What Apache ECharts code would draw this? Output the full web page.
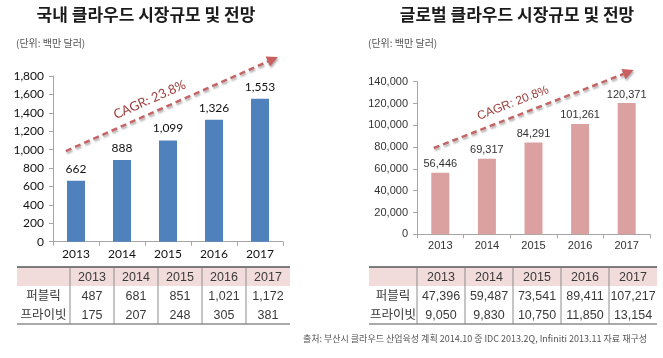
<!DOCTYPE html>
<html><head><meta charset="utf-8">
<script src="https://cdn.jsdelivr.net/npm/echarts@6/dist/echarts.min.js"></script>
<style>html,body{margin:0;padding:0;background:#fff}#c{width:663px;height:358px}</style>
</head><body><div id="c"></div>
<script>
// ---- data ----
const years = ['2013', '2014', '2015', '2016', '2017'];
const rowNames = ['퍼블릭', '프라이빗'];
const domesticTotal = [662, 888, 1099, 1326, 1553];
const domesticPublic = [487, 681, 851, 1021, 1172];
const domesticPrivate = [175, 207, 248, 305, 381];
const globalTotal = [56446, 69317, 84291, 101261, 120371];
const globalPublic = [47396, 59487, 73541, 89411, 107217];
const globalPrivate = [9050, 9830, 10750, 11850, 13154];
const domesticAxis = { min: 0, max: 1800, interval: 200 };
const globalAxis = { min: 0, max: 140000, interval: 20000 };
const domesticTitle = '국내 클라우드 시장규모 및 전망';
const globalTitle = '글로벌 클라우드 시장규모 및 전망';
const unitText = '(단위: 백만 달러)';
const sourceText = '출처: 부산시 클라우드 산업육성 계획 2014.10 중 IDC 2013.2Q, Infiniti 2013.11 자료 재구성';
const domesticCagr = 'CAGR: 23.8%';
const globalCagr = 'CAGR: 20.8%';
// trend arrows: [category position, value] start and end
const domesticArrow = [[-0.22, 985], [4.39, 2006]];
const globalArrow = [[-0.14, 79170], [4.15, 150730]];

const fmt = v => v.toLocaleString('en-US');
const TABLE_FONT = '"Liberation Sans", "Noto Sans CJK KR", sans-serif';

function bodyCells(pub, priv) {
  const cells = [];
  years.forEach((y, i) => cells.push({ x: i, y: 0, text: y }));
  pub.forEach((v, i) => cells.push({ x: i, y: 1, text: fmt(v) }));
  priv.forEach((v, i) => cells.push({ x: i, y: 2, text: fmt(v) }));
  return cells;
}
function labelCells() {
  return [{ x: 0, y: 0, text: '' }].concat(rowNames.map((n, i) => ({ x: 0, y: i + 1, text: n })));
}
function lineEl(x1, y1, x2, y2, color, w) {
  return { type: 'line', shape: { x1, y1, x2, y2 }, style: { stroke: color, lineWidth: w } };
}
function makeCellRenderer(cells, leftBorder) {
  return function (params, api) {
    const cell = cells[params.dataIndex];
    const c = api.coord([api.value(0), api.value(1)]);
    const s = api.size([1, 1]);
    const x = c[0] - s[0] / 2, y = c[1] - s[1] / 2, w = s[0], h = s[1];
    const ch = [];
    if (cell.y === 0) ch.push({ type: 'rect', shape: { x, y, width: w, height: h }, style: { fill: '#f2dcdb' } });
    ch.push({ type: 'text', style: { text: cell.text, x: c[0], y: c[1] + 1, align: 'center', verticalAlign: 'middle', fill: '#3a3a3a', fontSize: 12.5, fontFamily: TABLE_FONT } });
    if (leftBorder) ch.push(lineEl(x, y, x, y + h, '#8c8c8c', 1));
    if (cell.y === 0) ch.push(lineEl(x, y, x + w, y, '#555', 1.5));
    if (cell.y === 2) ch.push(lineEl(x, y + h, x + w, y + h, '#555', 1.2));
    return { type: 'group', children: ch };
  };
}

function chartAxes(grid, font, size, color, axisCfg) {
  const x = {
    type: 'category', gridIndex: grid, data: years,
    axisLine: { lineStyle: { color: '#a6a6a6' } },
    axisTick: { show: true, length: 4, lineStyle: { color: '#a6a6a6' } },
    axisLabel: { fontFamily: font, fontSize: size, color: color, margin: 6 }
  };
  const y = {
    type: 'value', gridIndex: grid, min: axisCfg.min, max: axisCfg.max, interval: axisCfg.interval,
    splitLine: { show: false },
    axisLine: { show: true, lineStyle: { color: '#a6a6a6' } },
    axisTick: { show: true, length: 4, lineStyle: { color: '#a6a6a6' } },
    axisLabel: { fontFamily: font, fontSize: size, color: color, margin: 9, formatter: v => fmt(v) }
  };
  return [x, y];
}
function hiddenAxes(grid, xData) {
  return [
    { type: 'category', gridIndex: grid, data: xData, show: false },
    { type: 'category', gridIndex: grid, data: ['h', 'r1', 'r2'], inverse: true, show: false }
  ];
}

const chart = echarts.init(document.getElementById('c'), null, { renderer: 'canvas' });

const a0 = chartAxes(0, 'Lato', 12, '#111', domesticAxis);
const a1 = chartAxes(1, 'Liberation Sans', 11, '#333', globalAxis);
const t2 = hiddenAxes(2, ['']), t3 = hiddenAxes(3, years), t4 = hiddenAxes(4, ['']), t5 = hiddenAxes(5, years);

const dLab = labelCells(), dBody = bodyCells(domesticPublic, domesticPrivate);
const gLab = labelCells(), gBody = bodyCells(globalPublic, globalPrivate);

chart.setOption({
  animation: false,
  backgroundColor: '#fff',
  grid: [
    { left: 53, top: 76, width: 230, height: 165.7 },
    { left: 417, top: 81.7, width: 233, height: 152.6 },
    { left: 17, top: 267, width: 53, height: 57 },
    { left: 70, top: 267, width: 220, height: 57 },
    { left: 369, top: 267, width: 48, height: 57 },
    { left: 417, top: 267, width: 240, height: 57 }
  ],
  xAxis: [a0[0], a1[0], t2[0], t3[0], t4[0], t5[0]],
  yAxis: [a0[1], a1[1], t2[1], t3[1], t4[1], t5[1]],
  series: [
    {
      type: 'bar', xAxisIndex: 0, yAxisIndex: 0, data: domesticTotal, barWidth: 18,
      itemStyle: { color: '#4f81bd' },
      label: { show: true, position: 'top', distance: 6, fontFamily: 'Lato', fontSize: 12, color: '#111', formatter: p => fmt(p.value) }
    },
    {
      type: 'bar', xAxisIndex: 1, yAxisIndex: 1, data: globalTotal, barWidth: 18,
      itemStyle: { color: '#dba1a0' },
      label: { show: true, position: 'top', distance: 3, fontFamily: 'Liberation Sans', fontSize: 11, color: '#333', formatter: p => fmt(p.value) }
    },
    { type: 'custom', xAxisIndex: 2, yAxisIndex: 2, data: dLab.map(c => [c.x, c.y]), renderItem: makeCellRenderer(dLab, false) },
    { type: 'custom', xAxisIndex: 3, yAxisIndex: 3, data: dBody.map(c => [c.x, c.y]), renderItem: makeCellRenderer(dBody, true) },
    { type: 'custom', xAxisIndex: 4, yAxisIndex: 4, data: gLab.map(c => [c.x, c.y]), renderItem: makeCellRenderer(gLab, false) },
    { type: 'custom', xAxisIndex: 5, yAxisIndex: 5, data: gBody.map(c => [c.x, c.y]), renderItem: makeCellRenderer(gBody, true) }
  ]
});

function arrowGraphics(axisIdx, pts, text, font) {
  const c0 = chart.convertToPixel({ xAxisIndex: axisIdx }, 0);
  const c1 = chart.convertToPixel({ xAxisIndex: axisIdx }, 1);
  const px = v => c0 + v * (c1 - c0);
  const py = v => chart.convertToPixel({ yAxisIndex: axisIdx }, v);
  const p1 = [px(pts[0][0]), py(pts[0][1])], p2 = [px(pts[1][0]), py(pts[1][1])];
  const dx = p2[0] - p1[0], dy = p2[1] - p1[1], len = Math.hypot(dx, dy);
  const ux = dx / len, uy = dy / len;
  const head = 11, hw = 5.5;
  const base = [p2[0] - ux * head, p2[1] - uy * head];
  const shadow = { shadowBlur: 2, shadowColor: 'rgba(0,0,0,0.3)', shadowOffsetX: 1, shadowOffsetY: 2 };
  const t = 0.42, off = 13;
  const tp = [p1[0] + dx * t + uy * off, p1[1] + dy * t - ux * off];
  return [
    { type: 'line', z: 10, shape: { x1: p1[0], y1: p1[1], x2: base[0], y2: base[1] },
      style: Object.assign({ stroke: '#c56464', lineWidth: 2.5, lineDash: [6, 4] }, shadow) },
    { type: 'polygon', z: 10, shape: { points: [p2, [base[0] - uy * hw, base[1] + ux * hw], [base[0] + uy * hw, base[1] - ux * hw]] },
      style: Object.assign({ fill: '#c95f5f' }, shadow) },
    { type: 'text', z: 11, x: tp[0], y: tp[1], rotation: Math.atan2(-dy, dx),
      style: { text: text, x: 0, y: 0, align: 'center', verticalAlign: 'middle', fill: '#9c3c3a', fontSize: font[0], fontFamily: font[1] } }
  ];
}

const g = [];
const tStyle = (text, x, y, align, size, weight, fill) => ({ type: 'text', style: { text, x, y, align, verticalAlign: 'middle', fill, fontSize: size, fontWeight: weight, fontFamily: 'Noto Sans CJK KR' } });
g.push(tStyle(domesticTitle, 146, 15, 'center', 17, 'bold', '#1a1a1a'));
g.push(tStyle(globalTitle, 517, 15, 'center', 17, 'bold', '#1a1a1a'));
g.push(tStyle(unitText, 16, 43, 'left', 10, 'normal', '#555'));
g.push(tStyle(unitText, 368, 43, 'left', 10, 'normal', '#555'));
g.push(tStyle(sourceText, 647, 339, 'right', 9, 'normal', '#555'));
arrowGraphics(0, domesticArrow, domesticCagr, [13, 'Lato']).forEach(e => g.push(e));
arrowGraphics(1, globalArrow, globalCagr, [12, 'Liberation Sans']).forEach(e => g.push(e));
chart.setOption({ graphic: g });
</script>
</body></html>
